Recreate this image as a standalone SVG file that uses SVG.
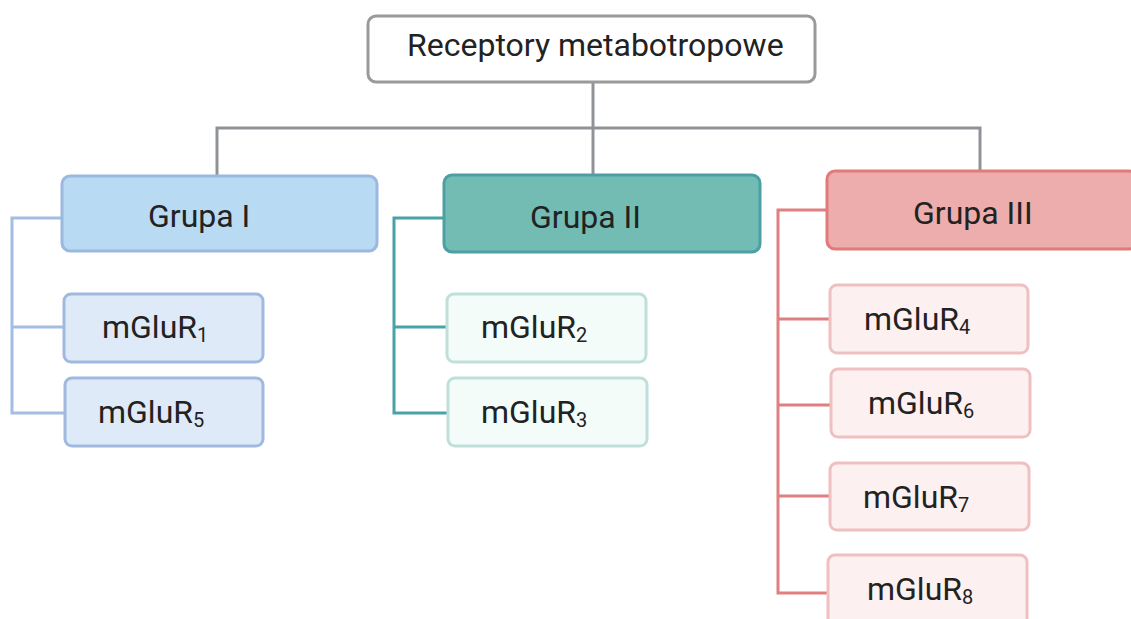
<svg xmlns="http://www.w3.org/2000/svg" width="1131" height="619" viewBox="0 0 1131 619">
<style>
text{font-family:Roboto,"Liberation Sans",sans-serif;fill:#222;font-size:32px}
.sub{font-size:20px}
.c{fill:none;stroke-width:3}
.g{stroke:#8f9397}
.b{stroke:#a3bde3}
.t{stroke:#4aa2a9}
.r{stroke:#e07f80}
.hb{fill:#b9daf3;stroke:#9bb8e0;stroke-width:3}
.ht{fill:#72bcb4;stroke:#4c9fa4;stroke-width:3}
.hr{fill:#edadad;stroke:#e07a7b;stroke-width:3}
.lb{fill:#dfeaf8;stroke:#9fb9df;stroke-width:3}
.lt{fill:#f3fcf9;stroke:#bfe0da;stroke-width:3}
.lr{fill:#fdf0f0;stroke:#efc0c1;stroke-width:3}
</style>
<rect width="1131" height="619" fill="#fff"/>
<g id="connectors">
<path class="c g" d="M593 82V128M217 176V128H980V170M593 128V175"/>
<path class="c b" d="M62 218H12V413H64M12 327H64"/>
<path class="c t" d="M444 218H394V413H448M394 327H447"/>
<path class="c r" d="M827 210H778V593H828M778 319H829M778 405H830M778 496H829"/>
</g>
<g id="root"><rect x="368" y="16" width="447" height="66" rx="8" fill="#fff" stroke="#9a9a9a" stroke-width="3"/><text x="407" y="56">Receptory metabotropowe</text></g>
<g id="grupa1"><rect class="hb" x="62" y="176" width="315" height="75" rx="8"/><text x="148" y="227">Grupa I</text></g>
<g id="grupa2"><rect class="ht" x="444" y="175" width="316" height="77" rx="8"/><text x="530" y="228">Grupa II</text></g>
<g id="grupa3"><rect class="hr" x="827" y="171" width="310" height="78" rx="8"/><text x="913" y="224">Grupa III</text></g>
<g id="mglur1"><rect class="lb" x="64" y="294" width="199" height="68" rx="7"/><text x="102" y="338">mGluR<tspan class="sub" dy="4">1</tspan></text></g>
<g id="mglur5"><rect class="lb" x="65" y="378" width="198" height="68" rx="7"/><text x="98" y="423">mGluR<tspan class="sub" dy="4">5</tspan></text></g>
<g id="mglur2"><rect class="lt" x="447" y="294" width="199" height="68" rx="7"/><text x="481" y="338">mGluR<tspan class="sub" dy="4">2</tspan></text></g>
<g id="mglur3"><rect class="lt" x="448" y="378" width="199" height="68" rx="7"/><text x="481" y="423">mGluR<tspan class="sub" dy="4">3</tspan></text></g>
<g id="mglur4"><rect class="lr" x="830" y="285" width="198" height="68" rx="7"/><text x="864" y="330">mGluR<tspan class="sub" dy="4">4</tspan></text></g>
<g id="mglur6"><rect class="lr" x="831" y="369" width="199" height="68" rx="7"/><text x="868" y="414">mGluR<tspan class="sub" dy="4">6</tspan></text></g>
<g id="mglur7"><rect class="lr" x="830" y="463" width="199" height="67" rx="7"/><text x="863" y="508">mGluR<tspan class="sub" dy="4">7</tspan></text></g>
<g id="mglur8"><rect class="lr" x="828" y="555" width="199" height="72" rx="7"/><text x="867" y="600">mGluR<tspan class="sub" dy="4">8</tspan></text></g>
</svg>
